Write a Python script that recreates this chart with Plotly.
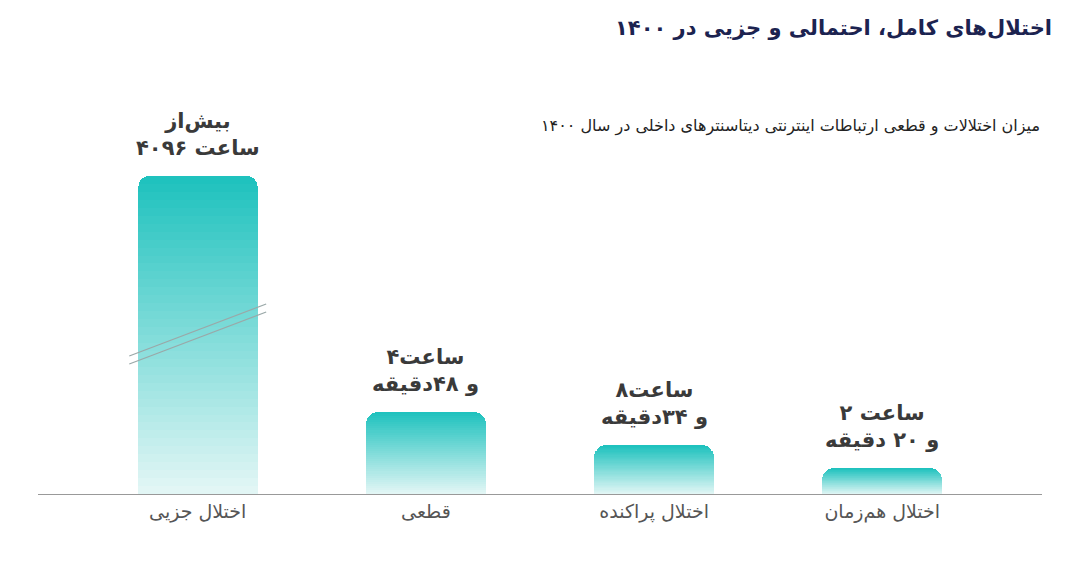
import plotly.graph_objects as go

categories = ["اختلال جزیی", "قطعی", "اختلال پراکنده", "اختلال هم‌زمان"]
# displayed bar heights (chart is not to scale, first bar is broken)
heights = [318, 82, 49, 26]
bar_labels = ["بیش‌از<br>۴۰۹۶ ساعت", "۴ساعت<br>و ۴۸دقیقه", "۸ساعت<br>و ۳۴دقیقه", "۲ ساعت<br>و ۲۰ دقیقه"]
title = "اختلال‌های کامل، احتمالی و جزیی در ۱۴۰۰"
subtitle = "میزان اختلالات و قطعی ارتباطات اینترنتی دیتاسنترهای داخلی در سال ۱۴۰۰"

FONT = "DejaVu Sans, Noto Sans, sans-serif"
top_rgb = (31, 194, 190)
bot_rgb = (226, 246, 245)
N = 40

fig = go.Figure()
xs = list(range(len(categories)))
for k in range(N):
    t = k / (N - 1)  # 0 bottom -> 1 top
    r = [round(bot_rgb[i] + (top_rgb[i] - bot_rgb[i]) * t) for i in range(3)]
    fig.add_trace(go.Bar(
        x=xs, y=[h / N for h in heights], width=0.525,
        marker=dict(color="rgb(%d,%d,%d)" % tuple(r), line=dict(width=0)),
        hoverinfo="skip", showlegend=False))

fig.update_layout(barmode="stack", barcornerradius=12, bargap=0)

for i, (h, lab) in enumerate(zip(heights, bar_labels)):
    fig.add_annotation(x=i, y=h, text="<b>" + lab + "</b>", showarrow=False, yanchor="bottom", yshift=14,
                       font=dict(family=FONT, size=21, color="#3a3a3a"), align="center")

# break marks on the first bar
for off in (0, 8):
    fig.add_shape(type="line", xref="x", yref="y", x0=-0.3, x1=0.3,
                  y0=130 + off, y1=182 + off, line=dict(color="#9aa8a8", width=1.2))

fig.add_annotation(xref="paper", yref="paper", x=1.012, y=1.0, yshift=46, xanchor="right",
                   text="<b>" + title + "</b>", showarrow=False,
                   font=dict(family=FONT, size=21, color="#1c2350"))
fig.add_annotation(xref="paper", yref="paper", x=1.0, y=0.82, xanchor="right", yanchor="bottom",
                   text=subtitle, showarrow=False, font=dict(family=FONT, size=16, color="#222222"))

fig.update_xaxes(range=[-0.70, 3.70], tickvals=xs, ticktext=categories, showgrid=False,
                 showline=True, linecolor="#999999", linewidth=1, ticks="",
                 tickfont=dict(family=FONT, size=19, color="#555555"), zeroline=False)
fig.update_yaxes(range=[0, 434], visible=False)
fig.update_layout(width=1080, height=578, margin=dict(l=30, r=46, t=52, b=92),
                  plot_bgcolor="white", paper_bgcolor="white")
fig.write_html("out.html")
